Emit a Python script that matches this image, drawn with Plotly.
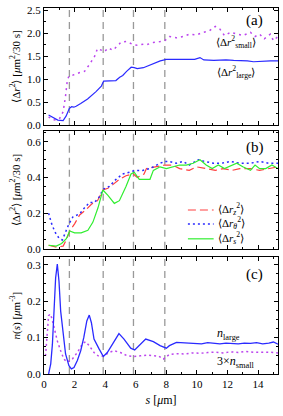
import plotly.graph_objects as go
from plotly.subplots import make_subplots

# ---------------- data ----------------
# panel (a)
S_LARGE_A = [0.3,0.6,0.9,1.25,1.45,1.65,1.8,1.95,2.1,2.4,2.85,3.4,3.75,3.9,4.3,4.7,4.95,5.15,5.4,5.7,5.9,6.1,6.5,6.7,7.15,7.6,8.0,8.5,9.0,9.5,9.85,10.2,10.45,11.1,11.6,11.9,12.4,12.8,13.3,13.7,14.1,14.4,14.8,15.3]
DR2_LARGE = [0.22,0.16,0.11,0.10,0.20,0.36,0.40,0.39,0.41,0.47,0.57,0.73,0.85,0.96,0.96,0.97,1.04,1.08,1.17,1.26,1.25,1.23,1.25,1.28,1.35,1.40,1.43,1.43,1.42,1.42,1.43,1.47,1.42,1.41,1.42,1.42,1.41,1.41,1.40,1.38,1.39,1.40,1.40,1.40]

S_SMALL_A = [0.3,0.6,1.0,1.25,1.4,1.52,1.63,1.9,2.3,2.65,2.95,3.3,3.5,3.75,3.95,4.2,4.5,4.85,5.05,5.4,5.85,6.1,6.5,6.7,7.15,7.6,7.9,8.2,8.65,9.1,9.5,9.95,10.4,10.8,11.2,11.5,11.8,12.2,12.6,13.0,13.5,13.8,14.1,14.4,14.8,15.0,15.3]
DR2_SMALL = [0.18,0.11,0.13,0.29,0.61,0.96,1.07,1.09,1.14,1.17,1.31,1.49,1.67,1.63,1.60,1.68,1.63,1.74,1.81,1.82,1.75,1.74,1.76,1.75,1.80,1.82,1.84,1.93,1.90,1.93,1.98,1.96,2.02,2.05,2.15,2.09,1.95,2.02,1.98,1.95,2.02,1.93,1.98,1.88,1.98,1.84,1.93]

# panel (b)
S_Z = [0.3,0.8,1.25,1.46,1.68,2.0,2.33,2.76,3.1,3.5,3.85,4.18,4.5,4.93,5.36,5.84,6.1,6.54,6.7,7.37,7.9,8.4,8.87,9.5,9.97,10.6,11.2,11.7,12.3,12.8,13.5,14.1,14.7,15.3]
DR2_Z = [0.02,0.01,0.015,0.05,0.10,0.14,0.19,0.22,0.25,0.27,0.33,0.34,0.36,0.39,0.41,0.42,0.40,0.42,0.45,0.46,0.47,0.47,0.45,0.44,0.46,0.45,0.44,0.45,0.44,0.45,0.45,0.44,0.45,0.46]

S_TH = [0.3,0.5,0.72,1.0,1.2,1.46,1.63,1.9,2.33,2.65,2.97,3.3,3.6,3.88,4.27,4.71,5.14,5.58,6.0,6.45,6.93,7.59,7.9,8.2,8.66,9.1,9.5,10.1,10.5,11.1,11.6,12.2,12.8,13.5,14.1,14.7,15.3]
DR2_TH = [0.20,0.14,0.094,0.057,0.05,0.10,0.14,0.18,0.196,0.23,0.26,0.26,0.29,0.335,0.35,0.39,0.42,0.43,0.44,0.44,0.45,0.48,0.49,0.49,0.48,0.49,0.47,0.50,0.49,0.48,0.48,0.49,0.48,0.48,0.49,0.48,0.48]

S_S = [0.3,0.8,1.15,1.46,1.68,2.0,2.43,2.87,3.2,3.53,3.85,4.18,4.6,4.93,5.36,5.69,5.9,6.23,6.67,6.93,7.15,7.59,8.0,8.4,8.87,9.3,9.75,10.2,10.6,11.0,11.4,11.8,12.3,12.6,13.0,13.5,13.8,14.1,14.5,14.9,15.3]
DR2_S = [0.02,0.015,0.03,0.057,0.10,0.09,0.09,0.104,0.15,0.23,0.33,0.30,0.255,0.27,0.35,0.42,0.43,0.39,0.39,0.39,0.44,0.46,0.45,0.46,0.47,0.47,0.48,0.50,0.47,0.45,0.47,0.45,0.47,0.48,0.46,0.44,0.47,0.45,0.45,0.47,0.45]

# panel (c)
S_NL = [0.3,0.44,0.55,0.65,0.76,0.87,0.98,1.09,1.26,1.41,1.63,1.79,1.96,2.18,2.4,2.6,2.8,2.96,3.1,3.27,3.6,3.88,4.14,4.58,4.9,5.23,5.67,5.93,6.3,6.65,7.15,7.59,8.0,8.2,8.66,9.1,9.5,9.9,10.3,10.7,11.1,11.5,11.9,12.3,12.7,13.1,13.5,13.9,14.3,14.7,15.0,15.3]
N_LARGE = [0.0,0.028,0.082,0.173,0.264,0.302,0.255,0.173,0.10,0.055,0.023,0.014,0.018,0.037,0.064,0.10,0.146,0.162,0.141,0.096,0.069,0.048,0.059,0.091,0.111,0.096,0.071,0.066,0.082,0.096,0.089,0.078,0.071,0.078,0.087,0.086,0.084,0.085,0.083,0.086,0.084,0.083,0.085,0.084,0.083,0.085,0.084,0.086,0.083,0.085,0.088,0.082]

S_NS = [0.1,0.2,0.3,0.4,0.5,0.65,0.87,1.09,1.3,1.52,1.85,2.18,2.5,2.72,2.96,3.27,3.6,3.92,4.25,4.58,5.0,5.45,5.88,6.3,6.74,7.15,7.5,7.8,8.2,8.7,9.2,9.7,10.2,10.7,11.2,11.7,12.2,12.7,13.2,13.7,14.2,14.7,15.3]
N_SMALL3 = [0.05,0.12,0.16,0.165,0.155,0.13,0.091,0.064,0.041,0.033,0.041,0.059,0.082,0.089,0.078,0.059,0.048,0.05,0.059,0.064,0.059,0.05,0.048,0.05,0.052,0.05,0.049,0.041,0.054,0.056,0.055,0.058,0.057,0.059,0.06,0.058,0.061,0.059,0.062,0.06,0.061,0.06,0.058]

# shell boundaries (vertical dashed lines)
DASH_S = [1.66, 3.87, 5.85, 7.9]

# axis ranges / ticks
X_RANGE = [0, 15.3]
X_TICKS = [0, 2, 4, 6, 8, 10, 12, 14]
Y_RANGES = [[0, 2.55], [0, 0.66], [0, 0.321]]
Y_TICKS = [[0.0, 0.5, 1.0, 1.5, 2.0, 2.5], [0.0, 0.2, 0.4, 0.6], [0.0, 0.1, 0.2, 0.3]]
Y_MINOR = [0.25, 0.05, 0.025]

LEGEND_B = ["⟨Δ<i>r</i><sub><i>z</i></sub><sup>2</sup>⟩",
            "⟨Δ<i>r</i><sub><i>θ</i></sub><sup>2</sup>⟩",
            "⟨Δ<i>r</i><sub><i>s</i></sub><sup>2</sup>⟩"]

# ---------------- styles ----------------
BLUE = "#2a2aff"
MAGENTA = "#bb44ee"
RED = "#ff4040"
GREEN = "#30ee30"
FONT = "Liberation Serif"

STYLE_Z = dict(color=RED, width=1.2, dash="8px,4px")
STYLE_TH = dict(color=BLUE, width=1.5, dash="2px,3px")
STYLE_S = dict(color=GREEN, width=1.2)

fig = make_subplots(rows=3, cols=1, shared_xaxes=False, vertical_spacing=0.0)

# panel (a)
fig.add_trace(go.Scatter(x=S_SMALL_A, y=DR2_SMALL, mode="lines",
                         line=dict(color=MAGENTA, width=1.5, dash="2px,4px")), row=1, col=1)
fig.add_trace(go.Scatter(x=S_LARGE_A, y=DR2_LARGE, mode="lines",
                         line=dict(color=BLUE, width=1.2)), row=1, col=1)

# panel (b)
fig.add_trace(go.Scatter(x=S_Z, y=DR2_Z, mode="lines", line=STYLE_Z), row=2, col=1)
fig.add_trace(go.Scatter(x=S_TH, y=DR2_TH, mode="lines", line=STYLE_TH), row=2, col=1)
fig.add_trace(go.Scatter(x=S_S, y=DR2_S, mode="lines", line=STYLE_S), row=2, col=1)

# panel (c)
fig.add_trace(go.Scatter(x=S_NS, y=N_SMALL3, mode="lines",
                         line=dict(color=MAGENTA, width=1.5, dash="2px,3px")), row=3, col=1)
fig.add_trace(go.Scatter(x=S_NL, y=N_LARGE, mode="lines",
                         line=dict(color=BLUE, width=1.3)), row=3, col=1)

# domains
DOMAINS = [[0.680, 1.0], [0.342, 0.6635], [0.0, 0.319]]
YTITLES = ["⟨Δ<i>r</i><sup>2</sup>⟩ [<i>μ</i>m<sup>2</sup>/30 s]",
           "⟨Δ<i>r</i><sup>2</sup>⟩ [<i>μ</i>m<sup>2</sup>/30 s]",
           "<i>n</i>(<i>s</i>) [<i>μ</i>m<sup>-3</sup>]"]

for i in range(3):
    xa = "xaxis" if i == 0 else f"xaxis{i+1}"
    ya = "yaxis" if i == 0 else f"yaxis{i+1}"
    fig.layout[xa].update(range=X_RANGE, tickmode="array", tickvals=X_TICKS, tickformat="d",
                          showticklabels=(i == 2),
                          ticks="inside", ticklen=4, tickcolor="black", showline=True, linecolor="black",
                          linewidth=1, mirror="ticks", showgrid=False, zeroline=False,
                          minor=dict(dtick=1, ticklen=2, ticks="inside", tickcolor="black", showgrid=False),
                          tickfont=dict(family=FONT, size=11, color="black"))
    fig.layout[ya].update(range=Y_RANGES[i], domain=DOMAINS[i], tickmode="array",
                          tickvals=Y_TICKS[i], tickformat=".1f",
                          ticks="inside", ticklen=4, tickcolor="black", showline=True, linecolor="black",
                          linewidth=1, mirror="ticks", showgrid=False, zeroline=False,
                          minor=dict(dtick=Y_MINOR[i], ticklen=2, ticks="inside", tickcolor="black", showgrid=False),
                          tickfont=dict(family=FONT, size=11, color="black"),
                          title=dict(text=YTITLES[i], font=dict(family=FONT, size=11, color="black"), standoff=4))

fig.layout.xaxis3.title = dict(text="<i>s</i> [<i>μ</i>m]", font=dict(family=FONT, size=12, color="black"), standoff=6)

# vertical dashed lines
for i in range(3):
    xr = "x" if i == 0 else f"x{i+1}"
    yr = "y domain" if i == 0 else f"y{i+1} domain"
    for s in DASH_S:
        fig.add_shape(type="line", xref=xr, yref=yr, x0=s, x1=s, y0=0, y1=1,
                      line=dict(color="#999999", width=1.3, dash="7px,5px"), layer="below")

# text labels
def ann(text, xr, yr, x, y, size, xanchor="center"):
    fig.add_annotation(text=text, xref=xr, yref=yr, x=x, y=y, showarrow=False,
                       font=dict(family=FONT, size=size, color="black"), xanchor=xanchor, yanchor="middle")

ann("(a)", "x domain", "y domain", 0.90, 0.89, 15)
ann("(b)", "x2 domain", "y2 domain", 0.90, 0.86, 15)
ann("(c)", "x3 domain", "y3 domain", 0.90, 0.85, 15)
ann("⟨Δ<i>r</i><sup>2</sup><sub>small</sub>⟩", "x domain", "y domain", 0.82, 0.71, 11)
ann("⟨Δ<i>r</i><sup>2</sup><sub>large</sub>⟩", "x domain", "y domain", 0.82, 0.45, 11)
ann("<i>n</i><sub>large</sub>", "x3 domain", "y3 domain", 0.79, 0.34, 12)
ann("3×<i>n</i><sub>small</sub>", "x3 domain", "y3 domain", 0.82, 0.10, 12)

# legend for panel (b): sample lines + labels
LEG_Y = [0.33, 0.21, 0.085]
for label, style, yy in zip(LEGEND_B, [STYLE_Z, STYLE_TH, STYLE_S], LEG_Y):
    fig.add_shape(type="line", xref="x2 domain", yref="y2 domain", x0=0.615, x1=0.725, y0=yy, y1=yy,
                  line=style)
    ann(label, "x2 domain", "y2 domain", 0.735, yy + 0.01, 11, xanchor="left")

fig.update_layout(
    width=283, height=416,
    margin=dict(l=44, r=5, t=4, b=42),
    paper_bgcolor="white", plot_bgcolor="white",
    font=dict(family=FONT, color="black"),
    showlegend=False,
)

fig.write_html("out.html", config={"displayModeBar": False},
               post_script="document.body.style.margin='0';")
